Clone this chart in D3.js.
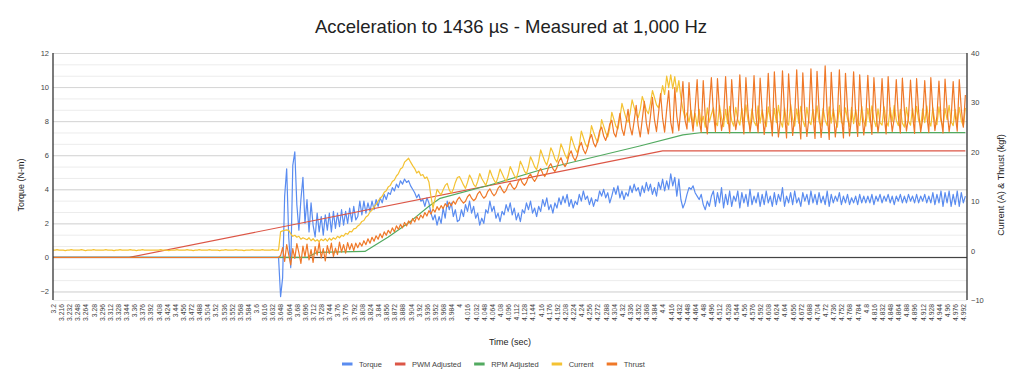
<!DOCTYPE html>
<html>
<head>
<meta charset="utf-8">
<script src="https://d3js.org/d3.v7.min.js"></script>
<style>
  body { margin: 0; background: #fff; }
  svg { display: block; font-family: "Liberation Sans", Arial, sans-serif; }
</style>
</head>
<body>
<svg id="chart" width="1024" height="384"></svg>
<script>
var sampleStart = 3.2;
var sampleStep = 0.004;

// Torque (N-m), left axis
var torque = [
  0,0,0,0,0,0,0,0,0,0,0,0,0,0,0,0,0,0,0,0,0,0,0,0,0,
  0,0,0,0,0,0,0,0,0,0,0,0,0,0,0,0,0,0,0,0,0,0,0,0,0,
  0,0,0,0,0,0,0,0,0,0,0,0,0,0,0,0,0,0,0,0,0,0,0,0,0,
  0,0,0,0,0,0,0,0,0,0,0,0,0,0,0,0,0,0,0,0,0,0,0,0,0,
  0,0,0,0,0,0,0,0,0,0,0,0,-2.3,-1.2,3.6,5.2,1.2,-0.6,5.4,6.2,3.1,1.6,3.4,4.7,2.0,
  3.4,1.5,3.2,1.9,1.2,2.6,1.5,2.4,1.3,2.5,1.6,2.6,1.5,2.7,1.7,2.6,1.8,2.8,1.9,2.7,2.0,2.9,2.1,3.0,2.2,
  2.4,3.3,2.5,3.3,2.6,3.2,2.7,3.3,2.8,3.4,3.0,3.5,3.2,3.7,3.4,3.8,3.7,4.1,3.9,4.3,4.1,4.5,4.3,4.6,4.4,
  4.5,4.2,4.0,3.8,3.5,3.7,3.3,3.4,3.0,3.5,3.2,2.6,2.2,2.5,1.9,2.4,2.0,2.9,2.3,3.3,2.8,3.2,2.4,2.8,2.1,
  2.2,2.8,2.4,3.1,2.7,3.3,2.6,3.0,2.3,2.6,1.9,2.3,2.0,2.8,2.6,3.3,2.7,3.0,2.3,2.6,2.1,2.7,2.5,3.1,2.7,
  3.2,2.5,2.9,2.2,2.6,2.1,2.8,2.6,3.2,2.8,3.3,2.6,2.9,2.4,3.0,2.7,3.4,3.0,3.5,2.8,3.1,2.6,3.2,2.9,3.5,
  3.1,3.6,3.2,3.7,3.0,3.4,2.9,3.3,3.1,3.7,3.3,3.9,3.4,3.6,3.1,3.5,3.0,3.4,3.3,3.9,3.6,4.0,3.5,3.8,3.2,
  3.6,4.1,3.7,4.2,3.5,3.9,3.4,3.8,3.6,4.2,3.8,4.3,3.9,4.1,3.6,4.2,3.8,4.4,3.9,4.3,3.7,4.1,3.6,4.4,4.0,
  4.6,3.9,4.5,4.0,4.9,4.2,4.7,3.6,4.6,3.4,2.9,3.2,3.7,4.1,4.0,4.2,3.8,3.6,3.4,3.7,3.1,2.8,3.3,3.0,3.6,
  3.9,3.0,3.8,3.2,4.1,2.9,3.7,3.1,3.9,3.0,3.6,3.3,3.9,2.9,3.8,3.2,3.7,3.0,4.0,3.1,3.6,3.2,3.8,3.0,3.7,
  3.1,3.9,3.2,3.6,3.0,3.8,3.1,3.7,3.3,4.1,3.0,3.6,3.2,3.8,3.1,3.9,3.2,3.5,3.0,3.8,3.3,3.7,3.1,3.9,3.2,
  3.7,3.1,3.8,3.2,3.6,3.1,3.9,3.0,3.7,3.2,3.6,3.3,3.8,3.1,3.6,3.2,3.7,3.1,3.5,3.2,3.6,3.1,3.7,3.2,3.6,
  3.2,3.6,3.2,3.7,3.1,3.6,3.3,3.7,3.2,3.6,3.3,3.7,3.2,3.6,3.1,3.6,3.3,3.7,3.2,3.6,3.2,3.7,3.3,3.6,3.2,
  3.7,3.2,3.6,3.3,3.7,3.2,3.6,3.2,3.8,3.1,3.7,3.2,3.9,3.0,3.8,3.2,3.9,3.0,3.7,3.1,3.9,3.0,3.8,3.2,3.6
];

// Current (A), right axis
var current = [
  0.1,0.1,0.2,0.1,0.1,0.1,0.0,0.1,0.1,0.2,0.1,0.1,0.1,0.1,0.2,0.1,0.0,0.1,0.1,0.1,0.2,0.1,0.1,0.1,0.1,
  0.1,0.2,0.1,0.1,0.1,0.0,0.1,0.1,0.2,0.1,0.1,0.1,0.1,0.2,0.1,0.1,0.0,0.1,0.1,0.2,0.1,0.1,0.1,0.1,0.1,
  0.1,0.1,0.1,0.2,0.1,0.1,0.1,0.0,0.1,0.1,0.1,0.2,0.1,0.1,0.1,0.1,0.2,0.1,0.1,0.0,0.1,0.1,0.2,0.1,0.1,
  0.1,0.1,0.2,0.1,0.1,0.1,0.1,0.0,0.1,0.1,0.2,0.1,0.1,0.1,0.1,0.2,0.1,0.1,0.1,0.0,0.1,0.1,0.1,0.2,0.1,
  0.1,0.1,0.1,0.2,0.1,0.1,0.1,0.1,0.2,0.1,0.1,0.1,3.8,4.0,4.1,4.2,4.1,3.4,2.9,3.1,2.7,2.9,2.3,2.6,2.4,
  2.2,2.6,2.0,2.4,1.9,2.2,1.8,2.3,2.0,2.4,1.9,2.5,2.1,2.6,2.3,2.9,2.6,3.1,2.9,3.5,3.3,3.9,3.8,4.4,4.5,
  5.0,5.3,5.9,6.1,6.8,7.1,7.8,8.2,8.9,9.3,10.0,10.6,11.0,11.8,12.1,12.9,13.2,14.0,14.3,15.1,15.6,16.5,16.8,17.9,18.3,
  18.7,17.9,17.2,16.6,15.7,16.1,15.2,15.4,14.6,14.9,13.9,11.0,8.6,10.4,12.4,11.8,11.3,12.3,13.2,13.6,12.3,11.6,12.4,13.8,14.8,
  15.0,14.2,13.3,12.6,13.8,15.3,14.5,13.4,12.9,14.0,15.6,14.6,13.9,13.2,14.5,16.3,15.2,14.3,13.6,14.9,16.5,15.6,14.7,14.0,15.2,
  17.0,16.1,15.2,14.6,16.0,18.1,17.2,16.1,15.5,17.0,19.0,18.1,17.0,16.4,18.0,20.4,19.2,18.1,17.3,18.8,20.8,19.9,18.6,17.9,19.4,
  21.6,20.5,19.4,18.6,20.2,23.1,21.8,20.6,19.8,21.4,24.2,22.9,21.6,20.9,22.3,25.3,24.0,22.8,21.9,23.5,26.5,25.2,23.9,23.0,24.8,
  28.0,26.6,25.2,24.6,26.9,29.8,28.3,26.8,26.0,27.8,30.5,29.0,27.6,26.9,28.6,31.2,29.9,28.4,27.7,29.8,32.4,31.0,29.5,28.9,31.1,
  33.4,31.6,35.3,33.0,35.6,32.8,35.2,32.1,34.4,31.0,28.6,26.8,27.9,26.0,28.4,25.6,27.8,25.2,28.6,25.5,27.2,25.0,28.9,26.0,27.6,
  28.9,26.0,25.3,29.4,26.8,25.1,28.6,25.7,29.2,26.3,25.2,29.0,26.5,25.4,28.8,25.9,29.5,26.4,25.0,28.7,26.1,25.3,29.3,25.8,28.5,
  26.2,25.1,29.1,26.6,25.3,28.8,25.9,29.4,26.3,25.0,28.9,26.0,25.4,29.6,26.5,25.2,28.7,25.8,29.2,26.4,25.1,29.0,26.2,25.5,28.6,
  25.9,29.3,26.1,25.2,28.8,26.4,25.3,29.1,25.8,28.7,26.3,25.0,29.4,26.0,25.4,28.9,26.6,25.1,29.0,25.7,28.6,26.2,25.3,29.2,26.1,
  25.2,28.8,26.0,29.3,26.5,25.1,28.7,25.9,25.4,29.1,26.3,25.2,28.9,26.1,29.4,26.4,25.3,28.6,25.8,25.0,29.0,26.2,25.4,28.8,26.0,
  29.2,26.3,25.1,28.7,25.9,29.3,26.4,25.2,28.9,26.0,25.5,29.1,26.2,25.0,28.8,26.5,29.4,26.1,25.3,28.6,25.8,29.0,26.3,25.2,28.9
];

// Thrust (kgf), right axis
var thrust = [
  -1.4,-1.4,-1.4,-1.4,-1.4,-1.4,-1.4,-1.4,-1.4,-1.4,-1.4,-1.4,-1.4,-1.4,-1.4,-1.4,-1.4,-1.4,-1.4,-1.4,-1.4,-1.4,-1.4,-1.4,-1.4,
  -1.4,-1.4,-1.4,-1.4,-1.4,-1.4,-1.4,-1.4,-1.4,-1.4,-1.4,-1.4,-1.4,-1.4,-1.4,-1.4,-1.4,-1.4,-1.4,-1.4,-1.4,-1.4,-1.4,-1.4,-1.4,
  -1.4,-1.4,-1.4,-1.4,-1.4,-1.4,-1.4,-1.4,-1.4,-1.4,-1.4,-1.4,-1.4,-1.4,-1.4,-1.4,-1.4,-1.4,-1.4,-1.4,-1.4,-1.4,-1.4,-1.4,-1.4,
  -1.4,-1.4,-1.4,-1.4,-1.4,-1.4,-1.4,-1.4,-1.4,-1.4,-1.4,-1.4,-1.4,-1.4,-1.4,-1.4,-1.4,-1.4,-1.4,-1.4,-1.4,-1.4,-1.4,-1.4,-1.4,
  -1.4,-1.4,-1.4,-1.4,-1.4,-1.4,-1.4,-1.4,-1.4,-1.4,-1.4,-1.4,-1.0,0.6,-2.2,1.2,-0.8,-2.9,0.4,-1.6,1.4,-0.4,-2.6,0.9,-1.2,
  1.3,-1.9,0.2,-2.4,0.8,-0.9,1.6,-1.5,0.4,-2.1,1.0,-0.6,1.5,-1.2,0.5,-0.8,1.7,-0.3,1.2,-0.5,1.6,0.2,1.4,0.0,1.5,
  0.6,1.6,0.9,2.0,1.2,2.4,1.5,2.7,1.9,3.0,2.3,3.4,2.6,3.8,3.1,4.1,3.5,4.6,3.8,5.0,4.3,5.3,4.6,5.7,5.0,
  6.0,5.4,6.5,5.8,6.9,6.2,7.2,6.6,7.7,7.0,8.1,7.4,8.4,7.8,8.9,8.2,9.1,8.5,9.5,8.9,9.8,9.1,10.0,9.4,10.3,
  10.8,10.1,9.6,10.0,10.9,11.4,10.6,10.1,10.5,11.5,12.0,11.2,10.6,11.0,12.0,12.5,11.7,11.1,11.6,12.6,13.1,12.3,11.7,12.2,13.2,
  13.7,12.9,12.4,12.9,14.0,14.6,13.7,13.2,13.8,15.0,15.5,14.6,14.0,14.7,16.0,16.6,15.6,15.0,15.7,17.0,17.6,16.6,16.0,16.8,18.1,
  18.8,17.6,17.0,17.8,19.4,20.2,18.9,18.2,19.2,21.0,21.9,20.4,19.6,20.7,22.6,23.5,21.8,21.0,22.2,24.2,25.0,23.2,22.3,23.6,25.6,
  26.4,23.8,23.0,25.2,27.8,24.6,23.3,25.8,28.6,25.0,23.4,26.2,29.4,25.3,23.0,26.6,30.2,25.8,23.6,27.1,31.0,26.5,24.1,27.8,31.8,
  26.8,24.0,28.5,32.4,26.0,23.8,33.0,27.2,24.3,29.0,34.2,26.5,24.6,34.0,27.4,24.2,28.8,34.6,26.2,24.0,34.4,27.0,23.6,29.3,35.0,
  27.8,24.1,34.8,28.6,24.3,26.9,35.2,27.5,23.8,34.6,28.0,24.5,27.2,35.6,27.8,23.6,35.0,28.3,24.0,26.8,35.4,27.1,23.9,34.9,28.4,
  23.5,27.0,35.9,27.6,23.2,36.2,28.5,23.0,26.6,36.4,27.9,22.8,35.8,28.8,23.3,27.1,36.6,27.4,22.6,36.0,28.1,23.1,26.9,36.8,27.7,
  22.7,36.3,28.6,22.9,27.3,37.4,27.8,22.5,36.1,28.2,23.0,26.8,36.6,27.5,22.8,35.9,28.7,23.2,27.0,36.2,27.9,23.1,35.6,28.1,23.4,
  26.9,35.5,27.6,23.5,35.0,28.2,23.9,27.1,34.8,27.4,23.6,35.2,28.0,24.1,26.8,34.6,27.3,23.8,34.9,28.4,24.2,27.0,34.5,27.6,23.7,
  34.8,28.1,24.0,26.7,34.4,27.5,23.9,35.0,28.3,24.3,27.2,34.3,27.0,23.8,34.7,28.5,24.1,26.9,34.2,27.4,24.2,34.6,28.6,25.0,31.5
];

// PWM Adjusted and RPM Adjusted (left axis), break points of the smooth traces
var pwmTime = [3.2, 3.35, 4.40, 4.996];
var pwmValue = [0, 0, 6.25, 6.25];
var rpmTime = [3.2, 3.70, 3.72, 3.814, 3.86, 3.903, 3.94, 3.962, 4.06, 4.159, 4.355, 4.44, 4.474, 4.996];
var rpmValue = [0, 0, 0.3, 0.35, 1.2, 2.1, 3.0, 3.47, 4.25, 5.13, 6.54, 7.19, 7.32, 7.32];

// axis ticks
var leftTicks = [-2, 0, 2, 4, 6, 8, 10, 12];
var rightTicks = [-10, 0, 10, 20, 30, 40];
var timeTicks = [3.2, 3.216, 3.232, 3.248, 3.264, 3.28, 3.296, 3.312, 3.328, 3.344, 3.36, 3.376, 3.392, 3.408, 3.424,
  3.44, 3.456, 3.472, 3.488, 3.504, 3.52, 3.536, 3.552, 3.568, 3.584, 3.6, 3.616, 3.632, 3.648, 3.664, 3.68,
  3.696, 3.712, 3.728, 3.744, 3.76, 3.776, 3.792, 3.808, 3.824, 3.84, 3.856, 3.872, 3.888, 3.904, 3.92, 3.936,
  3.952, 3.968, 3.984, 4, 4.016, 4.032, 4.048, 4.064, 4.08, 4.096, 4.112, 4.128, 4.144, 4.16, 4.176, 4.192,
  4.208, 4.224, 4.24, 4.256, 4.272, 4.288, 4.304, 4.32, 4.336, 4.352, 4.368, 4.384, 4.4, 4.416, 4.432, 4.448,
  4.464, 4.48, 4.496, 4.512, 4.528, 4.544, 4.56, 4.576, 4.592, 4.608, 4.624, 4.64, 4.656, 4.672, 4.688, 4.704,
  4.72, 4.736, 4.752, 4.768, 4.784, 4.8, 4.816, 4.832, 4.848, 4.864, 4.88, 4.896, 4.912, 4.928, 4.944, 4.96,
  4.976, 4.992];

var seriesNames = ["Torque", "PWM Adjusted", "RPM Adjusted", "Current", "Thrust"];
var seriesColors = ["#5a8cf0", "#dc5646", "#52aa60", "#f4c232", "#ef7828"];

// chart area
var plot = {left: 53, right: 967, top: 53, bottom: 300};

var svg = d3.select("#chart");

var x = d3.scaleLinear().domain([3.2, 5.0]).range([plot.left, plot.left + 1.8 * 508]);
var yLeft = d3.scaleLinear().domain([-2.5, 12]).range([plot.bottom, plot.top]);
var yRight = d3.scaleLinear().domain([-10, 40]).range([plot.bottom, plot.top]);

// title
svg.append("text")
  .attr("x", 511)
  .attr("y", 32.5)
  .attr("text-anchor", "middle")
  .attr("font-size", "18.5px")
  .attr("fill", "#222")
  .text("Acceleration to 1436 \u00b5s - Measured at 1,000 Hz");

// gridlines: minor every 2/3, major every 2 (left axis)
var minorGrid = d3.range(-2, 12.001, 2 / 3);
svg.append("g")
  .attr("transform", "translate(" + plot.left + ",0)")
  .call(d3.axisLeft(yLeft).tickValues(minorGrid.concat([-2.5])).tickSize(-(plot.right - plot.left)).tickFormat(""))
  .call(g => g.select(".domain").remove())
  .selectAll("line").attr("stroke", "#ececec");

svg.append("g")
  .attr("transform", "translate(" + plot.left + ",0)")
  .call(d3.axisLeft(yLeft).tickValues(leftTicks).tickSize(-(plot.right - plot.left)).tickFormat(""))
  .call(g => g.select(".domain").remove())
  .selectAll("line").attr("stroke", "#d6d6d6");

// series lines
function sampled(values) {
  return values.map(function (v, i) { return {t: sampleStart + i * sampleStep, v: v}; });
}
function paired(times, values) {
  return times.map(function (t, i) { return {t: t, v: values[i]}; });
}

var lineLeft = d3.line().x(d => x(d.t)).y(d => yLeft(d.v));
var lineRight = d3.line().x(d => x(d.t)).y(d => yRight(d.v));

var series = [
  {data: sampled(torque), line: lineLeft, color: seriesColors[0]},
  {data: paired(pwmTime, pwmValue), line: lineLeft, color: seriesColors[1]},
  {data: paired(rpmTime, rpmValue), line: lineLeft, color: seriesColors[2]},
  {data: sampled(current), line: lineRight, color: seriesColors[3]},
  {data: sampled(thrust), line: lineRight, color: seriesColors[4]}
];

// zero baseline
svg.append("line")
  .attr("x1", plot.left).attr("x2", plot.right)
  .attr("y1", yLeft(0)).attr("y2", yLeft(0))
  .attr("stroke", "#333").attr("stroke-width", 1);

series.forEach(function (s) {
  svg.append("path")
    .datum(s.data)
    .attr("fill", "none")
    .attr("stroke", s.color)
    .attr("stroke-width", 1.2)
    .attr("stroke-linejoin", "round")
    .attr("d", s.line);
});

// vertical axis lines
[plot.left, plot.right].forEach(function (px) {
  svg.append("line")
    .attr("x1", px).attr("x2", px)
    .attr("y1", plot.top).attr("y2", plot.bottom)
    .attr("stroke", "#333").attr("stroke-width", 1.3);
});

// left axis labels
svg.append("g")
  .attr("transform", "translate(" + plot.left + ",0)")
  .call(d3.axisLeft(yLeft).tickValues(leftTicks).tickSize(0).tickPadding(4))
  .call(g => g.select(".domain").remove())
  .selectAll("text")
  .attr("font-size", "7.5px")
  .attr("font-family", null)
  .attr("fill", "#444");

// right axis labels
svg.append("g")
  .attr("transform", "translate(" + plot.right + ",0)")
  .call(d3.axisRight(yRight).tickValues(rightTicks).tickSize(0).tickPadding(4))
  .call(g => g.select(".domain").remove())
  .selectAll("text")
  .attr("font-size", "7.5px")
  .attr("font-family", null)
  .attr("fill", "#444");

// time axis labels, rotated
svg.append("g")
  .attr("transform", "translate(0," + plot.bottom + ")")
  .call(d3.axisBottom(x).tickValues(timeTicks).tickSize(0).tickFormat(d => String(d)))
  .call(g => g.select(".domain").remove())
  .selectAll("text")
  .attr("font-size", "6.8px")
  .attr("font-family", null)
  .attr("fill", "#444")
  .attr("text-anchor", "end")
  .attr("transform", "rotate(-90)")
  .attr("x", -4)
  .attr("y", 0)
  .attr("dy", "0.35em");

// axis titles
svg.append("text")
  .attr("x", 510).attr("y", 345)
  .attr("text-anchor", "middle")
  .attr("font-size", "9px").attr("fill", "#222")
  .text("Time (sec)");

svg.append("text")
  .attr("transform", "translate(24,185) rotate(-90)")
  .attr("text-anchor", "middle")
  .attr("font-size", "9px").attr("fill", "#222")
  .text("Torque (N-m)");

svg.append("text")
  .attr("transform", "translate(1004,185) rotate(-90)")
  .attr("text-anchor", "middle")
  .attr("font-size", "9px").attr("fill", "#222")
  .text("Current (A) & Thrust (kgf)");

// legend
var legend = svg.append("g");
var lx = 342;
seriesNames.forEach(function (name, i) {
  legend.append("rect")
    .attr("x", lx).attr("y", 362.5)
    .attr("width", 10.5).attr("height", 3)
    .attr("fill", seriesColors[i]);
  var t = legend.append("text")
    .attr("x", lx + 17).attr("y", 366.5)
    .attr("font-size", "7.5px").attr("fill", "#444")
    .text(name);
  lx = lx + 17 + t.node().getComputedTextLength() + 13;
});
</script>
</body>
</html>
